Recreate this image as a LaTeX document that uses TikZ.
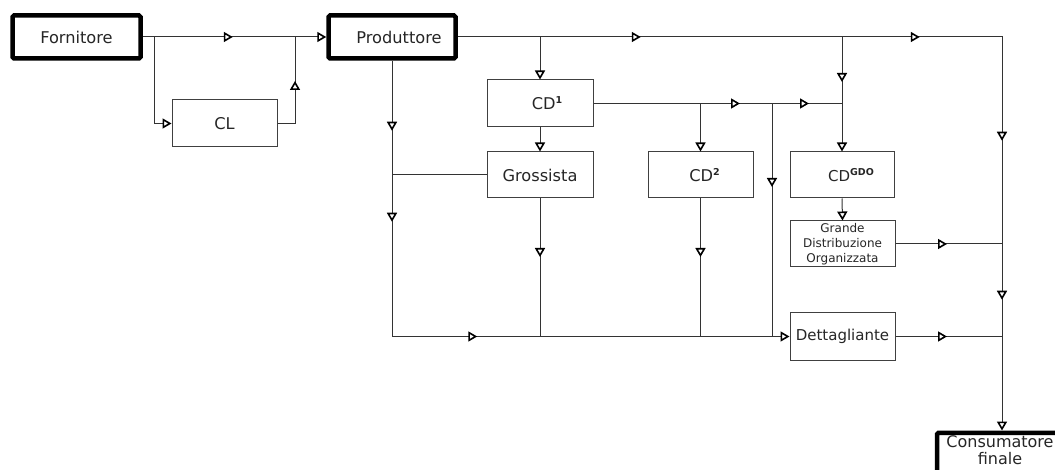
\documentclass[tikz,border=0pt]{standalone}
\usepackage{fontspec}
\setmainfont{DejaVu Sans}
\usetikzlibrary{arrows.meta,decorations.markings}
\newcommand\supb[1]{\raisebox{5.8pt}{\fontsize{9.5}{9.5}\selectfont\bfseries #1}}
\tikzset{
  otri/.tip={Triangle[open,fill=white,color=black,length=9pt,width=10pt,line width=1.6pt]},
  am/.style={postaction={decorate,decoration={markings,mark=at position #1 with {\arrow{otri}}}}},
  con/.style={draw=black!80,line width=1pt},
  bigbox/.style={draw=black,line width=4.5pt,rounded corners=1.5pt,fill=white,text=black!85,
    inner sep=0pt,font=\fontsize{16.2}{17}\selectfont},
  box/.style={draw=black!75,line width=1pt,fill=white,text=black!85,inner sep=0pt,
    minimum width=105pt,minimum height=46pt,font=\fontsize{16.2}{17}\selectfont}
}
\begin{document}
\begin{tikzpicture}[x=1pt,y=-1pt]
\useasboundingbox (0,0) rectangle (1055,470);
\clip (0,0) rectangle (1055,470);
% nodes
\node[bigbox,minimum width=128pt,minimum height=43pt] (forn) at (76.5,37) {Fornitore};
\node[bigbox,minimum width=127pt,minimum height=43pt] (prod) at (392,37) {\hspace*{14pt}Produttore};
\node[box,minimum height=47pt] (cl) at (224.5,123.5) {CL};
\node[box,minimum width=106pt,minimum height=47pt] (cd1) at (540,103.5) {\hspace*{14pt}CD\supb{1}};
\node[box,minimum width=106pt] (gro) at (540,175) {Grossista};
\node[box] (cd2) at (700.5,175) {\hspace*{8pt}CD\supb{2}};
\node[box,minimum width=104pt,font=\fontsize{15}{17}\selectfont] (cdg) at (842,175) {\hspace*{18pt}CD\supb{GDO}};
\node[box,align=center,font=\fontsize{12}{14.7}\selectfont] (gdo) at (842.5,244) {Grande\\Distribuzione\\Organizzata};
\node[box,minimum height=47pt,font=\fontsize{15}{17}\selectfont] (det) at (842.5,336.5) {Dettagliante};
\node[bigbox,minimum width=130pt,minimum height=45pt,anchor=north] (cons) at (1002,430.5) {};
\node[text=black!85,align=center,font=\fontsize{16}{17}\selectfont,anchor=north] (constxt) at (1000,432.5) {Consumatore\\finale};
% junctions
\coordinate (j1) at (154,37);
\coordinate (j2) at (295,37);
\coordinate (j3) at (1002,37);
\coordinate (j4) at (540,37);
\coordinate (j5) at (842,37);
\coordinate (j6) at (842,103.5);
\coordinate (j7) at (700.5,103.5);
\coordinate (j8) at (772,103.5);
\coordinate (j9) at (772,336.5);
% connectors
\draw[con,am=90pt,-otri] (forn.east) -- (prod.west);
\draw[con,-otri] (j1) |- (cl.west);
\draw[con,am=60pt] (cl.east) -| (j2);
\draw[con,am=183pt,am=462pt,am=648pt,am=807pt,-otri] (prod.east) -- (j3) -- (cons.north);
\draw[con,-otri] (j4) -- (cd1.north);
\draw[con,am=45pt,-otri] (j5) -- (cdg.north);
\draw[con,am=146.5pt,am=215.5pt] (cd1.east) -- (j6);
\draw[con,-otri] (j7) -- (cd2.north);
\draw[con,am=83.5pt] (j8) -- (j9);
\draw[con,-otri] (cd1.south) -- (gro.north);
\draw[con,am=70pt,am=161pt,am=361pt,-otri] (prod.south) |- (det.west);
\draw[con] (gro.west) -- (gro.west -| prod.south);
\draw[con,am=58.5pt] (gro.south) -- (gro.south |- det.west);
\draw[con,am=58.5pt] (cd2.south) -- (cd2.south |- det.west);
\draw[con,-otri] (cdg.south) -- (gdo.north);
\draw[con,am=51.5pt] (gdo.east) -- (gdo.east -| j3);
\draw[con,am=51.5pt] (det.east) -- (det.east -| j3);
\end{tikzpicture}
\end{document}
